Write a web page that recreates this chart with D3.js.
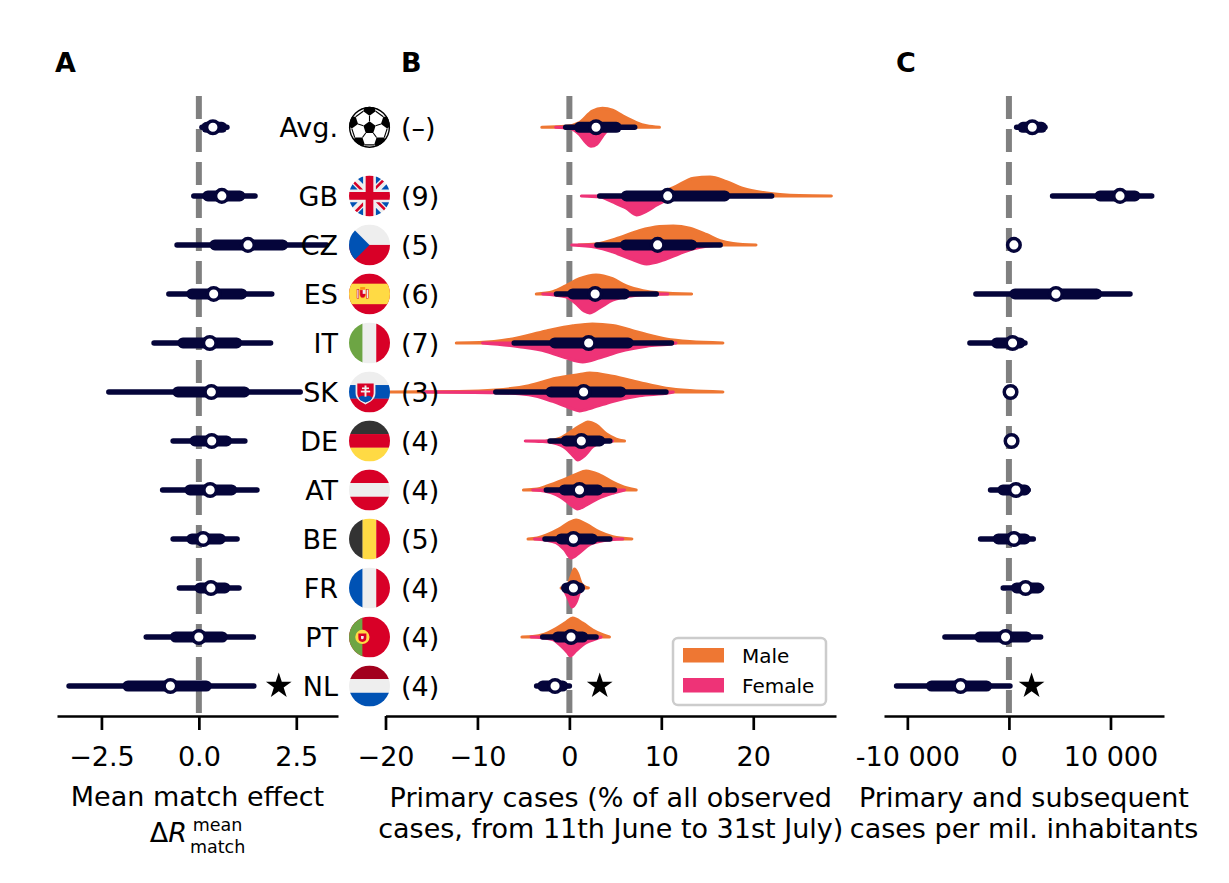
<!DOCTYPE html>
<html><head><meta charset="utf-8">
<script src="https://cdn.jsdelivr.net/npm/d3@7"></script>
<style>
html,body{margin:0;padding:0;background:#fff;}
svg{display:block;font-family:"DejaVu Sans",sans-serif;}
</style></head><body>
<svg id="chart" width="1229" height="883"></svg>
<script>
// ---------------- DATA ----------------
const categories = ["Avg.","GB","CZ","ES","IT","SK","DE","AT","BE","FR","PT","NL"];
const flagCodes  = ["ball","gb","cz","es","it","sk","de","at","be","fr","pt","nl"];
const gameCounts = ["(\u2013)","(9)","(5)","(6)","(7)","(3)","(4)","(4)","(5)","(4)","(4)","(4)"];

// Panel A: mean match effect
const effectMedian = [0.36,0.59,1.26,0.38,0.28,0.32,0.33,0.29,0.11,0.31,0.00,-0.73];
const effectLo95   = [0.08,-0.13,-0.56,-0.77,-1.15,-2.31,-0.66,-0.93,-0.66,-0.50,-1.35,-3.33];
const effectHi95   = [0.72,1.44,3.28,1.87,1.84,2.60,1.18,1.49,0.98,1.03,1.40,1.41];
const effectLo68   = [0.20,0.23,0.41,-0.18,-0.41,-0.54,-0.10,-0.23,-0.18,0.03,-0.60,-1.82];
const effectHi68   = [0.59,1.05,2.15,1.10,0.97,1.17,0.71,0.84,0.55,0.67,0.60,0.19];

// Panel B: primary cases (%)
const primaryMedian = [2.9,10.7,9.6,2.8,2.1,1.55,1.3,1.1,0.44,0.44,0.18,-1.56];
const primaryLo95   = [-0.4,3.3,3.0,-1.4,-6.0,-8.0,-2.1,-2.5,-2.65,-0.55,-2.9,-3.56];
const primaryHi95   = [7.1,22.0,16.4,9.45,11.1,10.5,4.4,4.9,4.4,1.27,2.9,0.0];
const primaryLo68   = [1.1,6.2,6.1,0.36,-1.6,-2.0,-0.36,-0.55,-0.9,-0.3,-1.27,-2.9];
const primaryHi68   = [5.1,16.9,13.3,6.0,6.4,5.6,3.3,3.1,2.5,1.1,1.45,-0.73];

// Panel B violins: [value, relative density (peak = 1)]
const maleDensity = [
  [[-3.0,0],[-0.4,0.05],[1.1,0.25],[2.5,0.85],[3.6,1],[4.7,0.9],[5.8,0.6],[7.3,0.25],[8.4,0.08],[9.8,0]],
  [[6,0],[8.4,0.05],[10,0.2],[11.3,0.43],[13.5,0.93],[15.3,1],[17.1,0.75],[18.9,0.4],[21.1,0.18],[22.9,0.08],[25,0.02],[28.5,0]],
  [[1,0],[2.9,0.05],[5.45,0.38],[7.6,0.75],[9.8,0.97],[11.3,1],[13.1,0.88],[14.9,0.55],[16.4,0.22],[17.8,0.08],[20.3,0]],
  [[-3.6,0],[-1.8,0.12],[-0.4,0.42],[1.1,0.8],[2.9,1],[4.7,0.8],[6.2,0.42],[8,0.17],[9.8,0.06],[13.3,0]],
  [[-12.3,0],[-9.8,0.02],[-6.2,0.21],[-2.5,0.63],[0.4,0.9],[2.5,1],[4.7,0.92],[7.6,0.55],[10.5,0.21],[13.1,0.07],[16.7,0]],
  [[-19.6,0],[-12,0.02],[-8,0.1],[-4.4,0.33],[-1.45,0.72],[1.1,0.92],[2.2,1],[4.7,0.83],[7.6,0.5],[10.5,0.2],[13.1,0.07],[16.7,0]],
  [[-2.5,0],[-1.1,0.13],[0.36,0.55],[1.45,0.88],[2.0,1],[2.9,0.85],[4.0,0.38],[5.1,0.1],[6.0,0]],
  [[-5.0,0],[-3.5,0.05],[-2.5,0.2],[-0.73,0.52],[0.73,0.82],[1.82,1],[3.27,0.8],[4.72,0.42],[6.18,0.12],[7.27,0]],
  [[-4.5,0],[-3.5,0.05],[-2.54,0.2],[-1.09,0.53],[0,0.87],[0.73,1],[1.82,0.78],[3.27,0.37],[4.72,0.12],[6.8,0]],
  [[-0.9,0],[-0.18,0.17],[0.18,0.58],[0.55,1],[0.9,0.75],[1.27,0.25],[1.64,0.08],[2.07,0]],
  [[-5.16,0],[-4,0.03],[-2.9,0.12],[-1.45,0.45],[-0.36,0.78],[0.36,1],[1.45,0.73],[2.54,0.37],[3.63,0.12],[4.36,0]],
  null
];
const femaleDensity = [
  [[-1.5,0],[0.0,0.05],[1.1,0.38],[1.8,0.8],[2.35,1],[3.0,0.88],[3.6,0.47],[4.3,0.1],[5.0,0]],
  [[1.3,0],[3.3,0.05],[4.7,0.32],[6.2,0.65],[7.3,1],[8.4,0.8],[9.5,0.48],[10.5,0.23],[12,0.07],[13.8,0]],
  [[0.25,0],[2.9,0.12],[4.7,0.37],[6.5,0.7],[8.4,1],[10.2,0.8],[12,0.45],[13.5,0.2],[14.9,0.07],[16.4,0]],
  [[-2.9,0],[-0.4,0.15],[0.7,0.5],[1.6,0.9],[2.2,1],[3.3,0.72],[4.7,0.33],[6.9,0.1],[8.5,0.03],[10.7,0]],
  [[-9.45,0],[-5.45,0.2],[-2.5,0.45],[-0.4,0.78],[1.45,1],[3.3,0.78],[5.45,0.45],[8.4,0.17],[11.3,0.03],[11.6,0]],
  [[-16,0],[-8,0.04],[-4.4,0.15],[-1.8,0.5],[0,0.83],[1.1,1],[2.5,0.83],[4.7,0.5],[7.6,0.2],[10.9,0.05],[11.3,0]],
  [[-4.8,0],[-3.0,0.03],[-1.8,0.1],[-0.36,0.4],[0.55,0.85],[0.9,1],[1.64,0.78],[2.54,0.3],[3.6,0.07],[4.7,0]],
  [[-4.0,0],[-2.5,0.08],[-1.45,0.25],[-0.36,0.58],[0.55,0.92],[0.9,1],[1.82,0.8],[3.27,0.42],[4.72,0.17],[6.0,0]],
  [[-3.8,0],[-2.6,0.06],[-1.45,0.2],[-0.55,0.55],[0.18,1],[1.09,0.72],[2.18,0.3],[3.63,0.1],[5.8,0]],
  [[-0.73,0],[-0.36,0.3],[0,0.67],[0.29,1],[0.73,0.75],[1.09,0.25],[1.53,0]],
  [[-4.17,0],[-3,0.04],[-1.82,0.13],[-0.9,0.47],[-0.18,0.83],[0.11,1],[0.73,0.72],[1.82,0.3],[2.9,0.1],[3.45,0]],
  null
];

// Panel C: primary and subsequent cases per million
const totalMedian = [2300,10940,490,4630,360,160,260,690,490,1640,-330,-4760];
const totalLo95   = [760,4300,300,-3250,-3840,50,100,-1810,-2790,-560,-6300,-11060];
const totalHi95   = [3550,14060,700,11920,1580,300,450,1900,2400,3220,3120,100];
const totalLo68   = [1380,8970,400,590,-1210,100,150,-590,-1050,750,-2860,-7620];
const totalHi68   = [3220,12410,600,8640,1080,250,380,1580,1580,2890,1740,-2200];

// significance stars (row NL), one value per panel
const starCategory = "NL";
const starValues = [2.05, 3.3, 2230];

const ticksA = [-2.5, 0, 2.5];
const ticksB = [-20, -10, 0, 10, 20];
const ticksC = [-10000, 0, 10000];
const panelLetters = ["A","B","C"];
const xLabelsB = ["Primary cases (% of all observed", "cases, from 11th June to 31st July)"];
const xLabelsC = ["Primary and subsequent", "cases per mil. inhabitants"];
const legendLabels = ["Male","Female"];

// ---------------- STYLE / LAYOUT ----------------
const NAVY = "#05053a", ORANGE = "#EE7733", PINK = "#EE3377", GRAY = "#808080";
const FS = 27;
const svg = d3.select("#chart");
const AXIS_Y = 716, TOP_Y = 96;

const rowPos = i => i === 0 ? 0 : i + 0.4;
const y = d3.scaleLinear().domain([0, 11.4]).range([127.3, 686]);
const xA = d3.scaleLinear().domain([-3.64, 3.57]).range([57, 338]);
const xB = d3.scaleLinear().domain([-20, 29]).range([385.5, 836]);
const xC = d3.scaleLinear().domain([-12300, 15270]).range([884, 1164]);
const vw = d3.scaleLinear().domain([0, 1]).range([0, 19]);

const defs = svg.append("defs");
[["clipA", xA], ["clipB", xB], ["clipC", xC]].forEach(([id, sx]) => {
  const r = sx.range();
  defs.append("clipPath").attr("id", id).append("rect")
    .attr("x", r[0]).attr("y", 80).attr("width", r[1] - r[0]).attr("height", AXIS_Y - 80);
});
defs.append("clipPath").attr("id", "flagclip").append("circle")
  .attr("cx", 256).attr("cy", 256).attr("r", 256);

const panels = [
  {x: xA, clip: "clipA", med: effectMedian, lo95: effectLo95, hi95: effectHi95, lo68: effectLo68, hi68: effectHi68},
  {x: xB, clip: "clipB", med: primaryMedian, lo95: primaryLo95, hi95: primaryHi95, lo68: primaryLo68, hi68: primaryHi68},
  {x: xC, clip: "clipC", med: totalMedian, lo95: totalLo95, hi95: totalHi95, lo68: totalLo68, hi68: totalHi68}
];

// dashed zero lines
panels.forEach(p => {
  svg.append("line").attr("x1", p.x(0)).attr("x2", p.x(0))
    .attr("y1", TOP_Y).attr("y2", AXIS_Y)
    .attr("stroke", GRAY).attr("stroke-width", 6).attr("stroke-dasharray", "23,10");
});

// violins (panel B)
const gV = svg.append("g").attr("clip-path", "url(#clipB)");
categories.forEach((c, i) => {
  const cy = y(rowPos(i));
  const m = maleDensity[i], f = femaleDensity[i];
  if (m) {
    const a = d3.area().curve(d3.curveMonotoneX).x(d => xB(d[0])).y0(cy).y1(d => cy - vw(d[1]));
    gV.append("path").attr("d", a(m)).attr("fill", ORANGE).attr("stroke", ORANGE)
      .attr("stroke-width", 3).attr("stroke-linejoin", "round");
  }
  if (f) {
    const a = d3.area().curve(d3.curveMonotoneX).x(d => xB(d[0])).y0(cy).y1(d => cy + vw(d[1]));
    gV.append("path").attr("d", a(f)).attr("fill", PINK).attr("stroke", PINK)
      .attr("stroke-width", 3).attr("stroke-linejoin", "round");
  }
});

// intervals and medians
panels.forEach(p => {
  const g = svg.append("g").attr("clip-path", `url(#${p.clip})`);
  categories.forEach((c, i) => {
    const cy = y(rowPos(i));
    g.append("line").attr("x1", p.x(p.lo95[i])).attr("x2", p.x(p.hi95[i]))
      .attr("y1", cy).attr("y2", cy).attr("stroke", NAVY).attr("stroke-width", 5.5).attr("stroke-linecap", "round");
    g.append("line").attr("x1", p.x(p.lo68[i])).attr("x2", p.x(p.hi68[i]))
      .attr("y1", cy).attr("y2", cy).attr("stroke", NAVY).attr("stroke-width", 11).attr("stroke-linecap", "round");
  });
  categories.forEach((c, i) => {
    g.append("circle").attr("cx", p.x(p.med[i])).attr("cy", y(rowPos(i))).attr("r", 6.3)
      .attr("fill", "#fff").attr("stroke", NAVY).attr("stroke-width", 3.5);
  });
});

// stars
const starRow = categories.indexOf(starCategory);
panels.forEach((p, k) => {
  svg.append("path").attr("d", d3.symbol(d3.symbolStar, 205)())
    .attr("transform", `translate(${p.x(starValues[k])},${y(rowPos(starRow))})`)
    .attr("fill", "#000");
});

// ---------------- FLAGS ----------------
const C = {R:"#d80027", B:"#0052b4", W:"#eeeeee", Y:"#ffda44", G:"#6da544", K:"#333333", D:"#a2001d"};
function hStripes(g, cols){ cols.forEach((c,k)=>g.append("rect").attr("x",0).attr("y",k*512/3-1).attr("width",512).attr("height",512/3+2).attr("fill",c)); }
function vStripes(g, cols){ cols.forEach((c,k)=>g.append("rect").attr("y",0).attr("x",k*512/3-1).attr("height",512).attr("width",512/3+2).attr("fill",c)); }
function drawFlag(g, code){
  switch(code){
    case "gb":
      g.append("rect").attr("width",512).attr("height",512).attr("fill",C.W);
      g.append("path").attr("fill",C.B).attr("d","M336 0v108L444 0Zm176 68L404 176h108zM0 176h108L0 68ZM176 0H68l108 108Zm0 512V404L68 512ZM0 444l108-108H0Zm512-108H404l108 108Zm-176 176h108L336 404Z");
      g.append("path").attr("fill",C.R).attr("d","M0 0v45l131 131h45L0 0zm208 0v208H0v96h208v208h96V304h208v-96H304V0h-96zm259 0L336 131v45L512 0h-45zM176 336 0 512h45l131-131v-45zm160 0 176 176v-45L381 336h-45z");
      break;
    case "cz":
      g.append("rect").attr("width",512).attr("height",256).attr("fill",C.W);
      g.append("rect").attr("y",256).attr("width",512).attr("height",256).attr("fill",C.R);
      g.append("path").attr("d","M0 0L256 256L0 512Z").attr("fill",C.B);
      break;
    case "es":
      g.append("rect").attr("width",512).attr("height",512).attr("fill",C.R);
      g.append("rect").attr("y",128).attr("width",512).attr("height",256).attr("fill",C.Y);
      g.append("rect").attr("x",100).attr("y",200).attr("width",22).attr("height",110).attr("fill",C.W).attr("stroke",C.R).attr("stroke-width",6);
      g.append("rect").attr("x",220).attr("y",200).attr("width",22).attr("height",110).attr("fill",C.W).attr("stroke",C.R).attr("stroke-width",6);
      g.append("path").attr("d","M135 205h72v60c0 25-18 40-36 40s-36-15-36-40z").attr("fill",C.R).attr("stroke","#ff9811").attr("stroke-width",6);
      g.append("rect").attr("x",171).attr("y",205).attr("width",36).attr("height",50).attr("fill",C.W);
      g.append("rect").attr("x",140).attr("y",170).attr("width",62).attr("height",26).attr("fill","#ff9811");
      break;
    case "it": vStripes(g,[C.G,C.W,C.R]); break;
    case "sk":
      hStripes(g,[C.W,C.B,C.R]);
      g.append("path").attr("d","M82 130H330V270C330 350 260 385 206 412C152 385 82 350 82 270Z").attr("fill",C.W);
      g.append("path").attr("d","M104 150H308V270C308 335 252 365 206 388C160 365 104 335 104 270Z").attr("fill",C.R);
      g.append("path").attr("d","M120 330Q160 285 206 315Q252 285 292 330L270 360Q240 380 206 388Q172 380 142 360Z").attr("fill",C.B);
      g.append("rect").attr("x",194).attr("y",175).attr("width",24).attr("height",140).attr("fill",C.W);
      g.append("rect").attr("x",162).attr("y",200).attr("width",88).attr("height",20).attr("fill",C.W);
      g.append("rect").attr("x",148).attr("y",240).attr("width",116).attr("height",22).attr("fill",C.W);
      break;
    case "de": hStripes(g,[C.K,C.R,C.Y]); break;
    case "at": hStripes(g,[C.R,C.W,C.R]); break;
    case "be": vStripes(g,[C.K,C.Y,C.R]); break;
    case "fr": vStripes(g,[C.B,C.W,C.R]); break;
    case "nl": hStripes(g,[C.D,C.W,C.B]); break;
    case "pt":
      g.append("rect").attr("width",512).attr("height",512).attr("fill",C.R);
      g.append("rect").attr("width",167).attr("height",512).attr("fill",C.G);
      g.append("circle").attr("cx",167).attr("cy",256).attr("r",89).attr("fill",C.Y);
      g.append("path").attr("fill",C.R).attr("d","M116.9 211.5V267a50 50 0 1 0 100 0v-55.6H117z");
      g.append("path").attr("fill",C.W).attr("d","M167 283.8c-9.2 0-16.7-7.5-16.7-16.7V245h33.4v22c0 9.2-7.5 16.7-16.7 16.7z");
      break;
    case "ball": {
      g.append("circle").attr("cx",256).attr("cy",256).attr("r",256).attr("fill","#fff");
      const cx = 256, cy = 262, rad = Math.PI/180;
      const pent = (px,py,r,a0) => d3.range(5).map(k=>[px + r*Math.cos((a0+72*k)*rad), py + r*Math.sin((a0+72*k)*rad)]);
      const line = d3.line();
      const center = pent(cx,cy,80,-90);
      g.append("path").attr("d", line(center)+"Z").attr("fill","#000");
      const outers = [];
      d3.range(5).forEach(k=>{
        const a = -90 + 72*k;
        const ox = cx + 232*Math.cos(a*rad), oy = cy + 232*Math.sin(a*rad);
        const p = pent(ox,oy,82,a+180);
        outers.push(p);
        g.append("path").attr("d", line(p)+"Z").attr("fill","#000");
        g.append("line").attr("x1",center[k][0]).attr("y1",center[k][1]).attr("x2",p[0][0]).attr("y2",p[0][1])
          .attr("stroke","#000").attr("stroke-width",14);
      });
      d3.range(5).forEach(k=>{
        const p = outers[k], q = outers[(k+1)%5];
        g.append("line").attr("x1",p[4][0]).attr("y1",p[4][1]).attr("x2",q[1][0]).attr("y2",q[1][1])
          .attr("stroke","#000").attr("stroke-width",14);
      });
      break; }
  }
}
const FLAG_X = 369.5, FLAG_R = 20.5;
categories.forEach((c, i) => {
  const cy = y(rowPos(i));
  const s = (2*FLAG_R)/512;
  const outer = svg.append("g").attr("transform", `translate(${FLAG_X},${cy}) scale(${s}) translate(-256,-256)`);
  const inner = outer.append("g").attr("clip-path", "url(#flagclip)");
  drawFlag(inner, flagCodes[i]);
  if (flagCodes[i] === "ball") {
    outer.append("circle").attr("cx",256).attr("cy",256).attr("r",248).attr("fill","none")
      .attr("stroke","#000").attr("stroke-width",18);
  }
});

// row labels
categories.forEach((c, i) => {
  const cy = y(rowPos(i));
  svg.append("text").attr("x", 338).attr("y", cy + 9.7).attr("text-anchor", "end")
    .attr("font-size", FS).attr("fill", "#000").text(c);
  svg.append("text").attr("x", 401).attr("y", cy + 9.7).attr("text-anchor", "start")
    .attr("font-size", FS).attr("fill", "#000").text(gameCounts[i]);
});

// ---------------- AXES ----------------
const fmtA = d3.format(".1f");
const fmtB = d3.format("d");
const fmtC = d3.formatLocale({decimal: ".", thousands: "\u2009", grouping: [3], currency: ["", ""], minus: "-"}).format(",d");
const fmtC2 = d => fmtC(d).replace(/\u2009/g, " ");
[[xA, ticksA, fmtA], [xB, ticksB, fmtB], [xC, ticksC, fmtC2]].forEach(([sx, tv, fmt]) => {
  const ax = svg.append("g").attr("transform", `translate(0,${AXIS_Y})`)
    .call(d3.axisBottom(sx).tickValues(tv).tickFormat(fmt).tickSize(14).tickSizeOuter(0).tickPadding(17));
  ax.select(".domain").attr("stroke", "#000").attr("stroke-width", 2.7);
  ax.selectAll(".tick line").attr("stroke", "#000").attr("stroke-width", 2.7);
  ax.selectAll(".tick text").attr("font-size", FS).attr("font-family", "DejaVu Sans").attr("fill", "#000");
});

// axis labels
const cxA = (xA.range()[0] + xA.range()[1]) / 2;
const cxB = (xB.range()[0] + xB.range()[1]) / 2;
const cxC = (xC.range()[0] + xC.range()[1]) / 2;
svg.append("text").attr("x", cxA).attr("y", 806).attr("text-anchor", "middle").attr("font-size", FS).text("Mean match effect");
// math label: ΔR^{mean}_{match}
const mg = svg.append("g");
const tDelta = mg.append("text").attr("y", 842).attr("font-size", FS);
tDelta.append("tspan").text("\u0394");
tDelta.append("tspan").attr("font-style", "italic").text("R");
const wD = tDelta.node().getComputedTextLength();
const tSup = mg.append("text").attr("y", 831).attr("font-size", 17.5).text("mean");
const tSub = mg.append("text").attr("y", 853).attr("font-size", 17.5).text("match");
const wS = Math.max(tSup.node().getComputedTextLength(), tSub.node().getComputedTextLength());
const startX = cxA - (wD + 3 + wS) / 2;
tDelta.attr("x", startX);
const sx2 = startX + wD + 3;
tSub.attr("x", sx2);
tSup.attr("x", sx2 + (tSub.node().getComputedTextLength() - tSup.node().getComputedTextLength()) / 2);

[[cxB, xLabelsB], [cxC, xLabelsC]].forEach(([cx, lines]) => {
  lines.forEach((l, k) => {
    svg.append("text").attr("x", cx).attr("y", 807 + k * 31).attr("text-anchor", "middle").attr("font-size", FS).text(l);
  });
});

// panel letters
[[55, 0], [401, 1], [896, 2]].forEach(([x, k]) => {
  svg.append("text").attr("x", x).attr("y", 72).attr("font-size", FS).attr("font-weight", "bold").text(panelLetters[k]);
});

// legend
const lg = svg.append("g");
lg.append("rect").attr("x", 673).attr("y", 638).attr("width", 153).attr("height", 67).attr("rx", 5)
  .attr("fill", "#fff").attr("fill-opacity", 0.8).attr("stroke", "#cccccc").attr("stroke-width", 2.5);
[ORANGE, PINK].forEach((col, k) => {
  lg.append("rect").attr("x", 683).attr("y", 648 + k * 30).attr("width", 41).attr("height", 14.5).attr("fill", col);
  lg.append("text").attr("x", 742).attr("y", 663 + k * 30).attr("font-size", 20).text(legendLabels[k]);
});
</script></body></html>
